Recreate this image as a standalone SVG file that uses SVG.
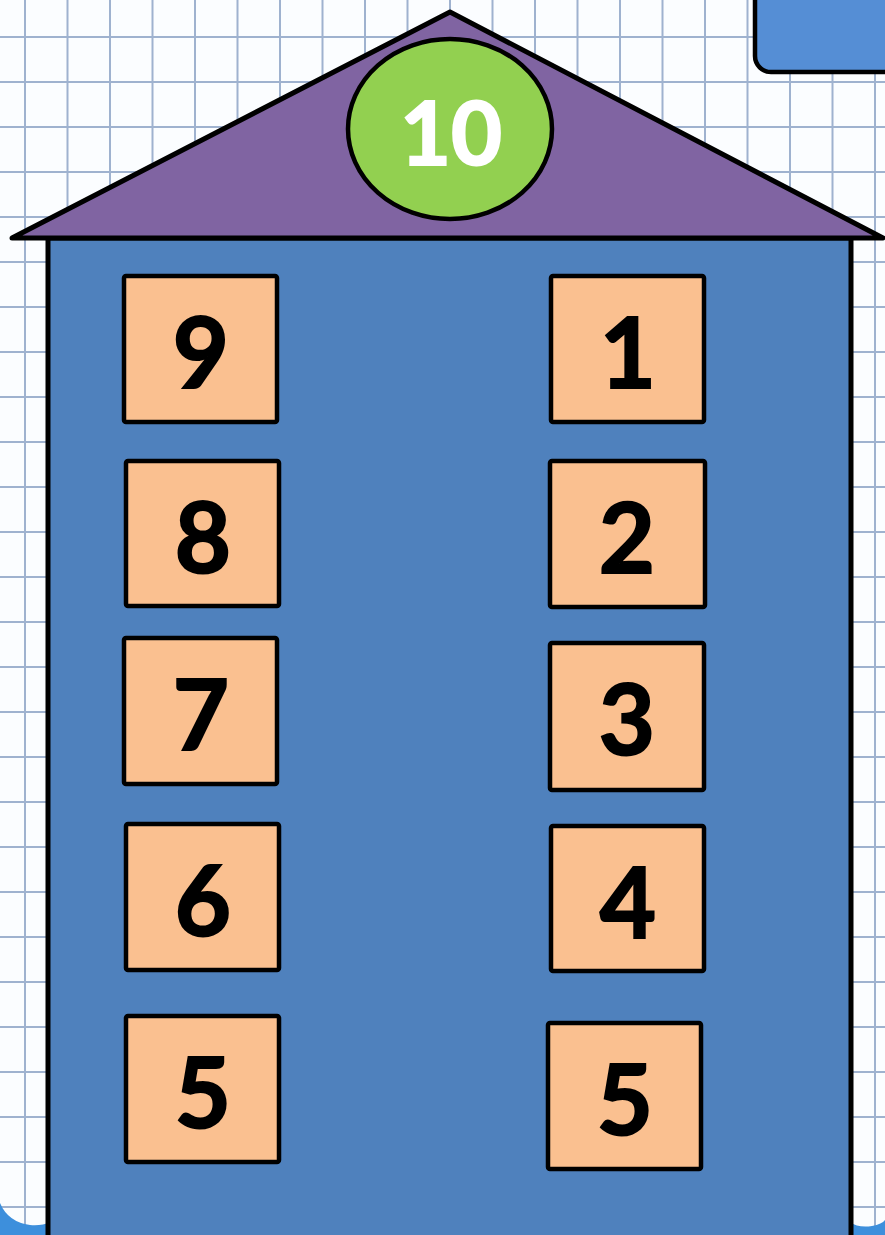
<svg xmlns="http://www.w3.org/2000/svg" width="885" height="1235" viewBox="0 0 885 1235">
<style>
.grid{stroke:#9fb2cf;stroke-width:2;fill:none}
.box{fill:#FAC090;stroke:#000;stroke-width:4.5}
.num{font-family:Lato,"Open Sans","Liberation Sans",sans-serif;font-weight:bold;font-size:97px;fill:#000;stroke:#000;stroke-width:2;text-anchor:middle}
.wave{fill:#3d8fdc}
</style>
<rect x="0" y="0" width="885" height="1235" fill="#fbfdff"/>
<g id="grid">
<path class="grid" d="M25 0V1235M67.5 0V1235M110 0V1235M152.5 0V1235M195 0V1235M237.5 0V1235M280 0V1235M322.5 0V1235M365 0V1235M407.5 0V1235M450 0V1235M492.5 0V1235M535 0V1235M577.5 0V1235M620 0V1235M662.5 0V1235M705 0V1235M747.5 0V1235M790 0V1235M832.5 0V1235M875 0V1235"/>
<path class="grid" d="M0 37H885M0 82H885M0 127H885M0 172H885M0 217H885M0 262H885M0 307H885M0 352H885M0 397H885M0 442H885M0 487H885M0 532H885M0 577H885M0 622H885M0 667H885M0 712H885M0 757H885M0 802H885M0 847H885M0 892H885M0 937H885M0 982H885M0 1027H885M0 1072H885M0 1117H885M0 1162H885M0 1207H885"/>
</g>
<g id="waves">
<path class="wave" d="M0 1203 Q8 1222 30 1225 Q42 1226 50 1222 V1235 H0Z"/>
<path class="wave" d="M850 1222 Q858 1228 872 1226 Q882 1224 885 1220 V1235 H850Z"/>
</g>
<g id="button">
<rect x="755" y="-30" width="160" height="102" rx="16" fill="#558ED5" stroke="#000" stroke-width="4.5"/>
</g>
<g id="house-body">
<rect x="48" y="238" width="803" height="1010" fill="#4F81BD" stroke="#000" stroke-width="5"/>
</g>
<g id="roof">
<polygon points="12,238 450,12 883,238" fill="#8064A2" stroke="#000" stroke-width="5" stroke-linejoin="round"/>
</g>
<g id="node-10">
<ellipse cx="450" cy="129" rx="102" ry="90" fill="#92D050" stroke="#000" stroke-width="4.5"/>
<text x="451" y="165" font-family="Lato,'Open Sans','Liberation Sans',sans-serif" font-weight="bold" font-size="88" fill="#fff" stroke="#fff" stroke-width="2" text-anchor="middle">10</text>
</g>
<g id="node-9"><rect class="box" x="124" y="276" width="153" height="146" rx="2"/><text class="num" x="201" y="388">9</text></g>
<g id="node-8"><rect class="box" x="126" y="461" width="153" height="145" rx="2"/><text class="num" x="203" y="573">8</text></g>
<g id="node-7"><rect class="box" x="124" y="638" width="153" height="146" rx="2"/><text class="num" x="201" y="750">7</text></g>
<g id="node-6"><rect class="box" x="126" y="824" width="153" height="146" rx="2"/><text class="num" x="203" y="936">6</text></g>
<g id="node-5-left"><rect class="box" x="126" y="1016" width="153" height="146" rx="2"/><text class="num" x="203" y="1128">5</text></g>
<g id="node-1"><rect class="box" x="551" y="276" width="153" height="146" rx="2"/><text class="num" x="628" y="388">1</text></g>
<g id="node-2"><rect class="box" x="550" y="461" width="155" height="146" rx="2"/><text class="num" x="627" y="573">2</text></g>
<g id="node-3"><rect class="box" x="550" y="643" width="154" height="147" rx="2"/><text class="num" x="627" y="755">3</text></g>
<g id="node-4"><rect class="box" x="551" y="826" width="153" height="145" rx="2"/><text class="num" x="628" y="938">4</text></g>
<g id="node-5-right"><rect class="box" x="548" y="1023" width="153" height="146" rx="2"/><text class="num" x="625" y="1135">5</text></g>
</svg>
